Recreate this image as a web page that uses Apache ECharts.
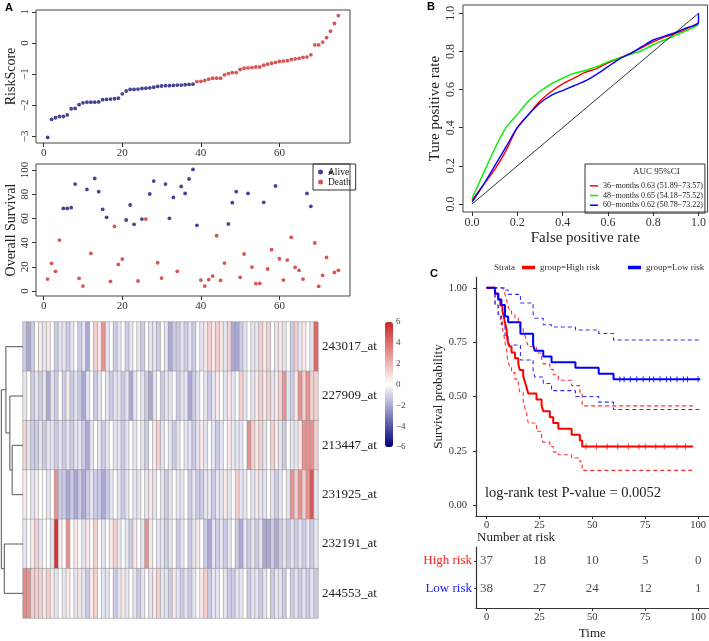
<!DOCTYPE html>
<html>
<head>
<meta charset="utf-8">
<title>Risk model - ROC - survival</title>
<script src="https://cdn.jsdelivr.net/npm/echarts@6/dist/echarts.min.js"></script>
<style>
	html, body { margin: 0; padding: 0; background: #fff; }
	#main { width: 709px; height: 641px; }
</style>
</head>
<body>
<div id="main"></div>
<script type="text/javascript">
	// ---- A: risk score, patients sorted (low risk blue, high risk red)
	var riskLow = [-3.03,-2.45,-2.40,-2.36,-2.36,-2.31,-2.11,-2.10,-1.98,-1.92,-1.90,-1.90,-1.90,-1.89,-1.82,-1.81,-1.80,-1.79,-1.77,-1.63,
		-1.54,-1.49,-1.49,-1.48,-1.46,-1.45,-1.44,-1.42,-1.39,-1.38,-1.37,-1.37,-1.36,-1.35,-1.35,-1.34,-1.33,-1.32];
	var riskHigh = [-1.24,-1.23,-1.20,-1.16,-1.13,-1.13,-1.13,-1.02,-0.98,-0.95,-0.95,-0.85,-0.81,-0.80,-0.79,-0.77,-0.77,-0.71,-0.68,-0.65,
		-0.62,-0.59,-0.58,-0.57,-0.53,-0.51,-0.49,-0.46,-0.45,-0.38,-0.06,-0.06,0.03,0.17,0.38,0.63,0.88];

	// ---- A: overall survival of the same patients, 1 = death
	var osTime = [9.9,22.9,16.3,42.1,68.3,68.3,68.9,88.4,10.5,4.1,84.0,31.1,93.1,82.1,67.5,60.9,8.0,53.4,22.0,26.4,
		58.7,71.1,55.1,8.3,59.5,59.5,80.2,90.9,23.4,10.7,88.4,60.1,77.4,16.3,86.5,80.7,92.6,100.5,54.3,9.1,
		4.1,9.4,12.4,45.7,8.8,23.1,55.4,73.0,82.1,11.3,30.6,80.7,19.8,6.1,6.3,73.3,18.2,34.2,86.8,26.7,
		9.1,25.6,44.4,19.6,17.1,9.9,80.7,70.0,39.7,3.9,12.9,27.8,98.0,15.4,17.1];
	var osDeath = [1,1,1,1,0,0,0,0,1,1,0,1,0,0,0,0,1,1,1,1,
		0,0,0,1,0,1,0,0,1,1,0,0,0,1,0,0,0,0,0,1,
		1,1,1,1,1,1,0,0,0,1,1,0,1,1,1,0,1,1,0,1,
		1,1,1,1,1,1,0,0,1,1,1,1,0,1,1];

	// ---- A: heatmap, one array per probe (75 patients each)
	var geneNames = ['243017_at','227909_at','213447_at','231925_at','232191_at','244553_at'];
	var expr243017 = [-1.2,-2.0,-1.2,0,0.6,-0.6,0.6,0,-1.2,-0.6, -0.6,-1.2,-0.6,0,-1.2,-0.6,-2.0,0,1.3,0.6, 3.0,-0.6,0,-1.2,-0.6,0,-1.2,-0.6,0,-0.6,
		-1.2,0,-0.6,-0.6,-1.2,0,-0.6,-2.0,-1.2,-1.2, -0.6,-1.2,-0.6,-1.2,0,-0.6,0.6,1.3,0.6,1.3, 0.6,-0.6,1.3,-2.0,-2.0,-1.2,-0.6,0,-0.6,-0.6,
		1.3,0.6,1.3,0,-0.6,0.6,-0.6,0,-1.2,1.3, -0.6,0.6,0,-0.6,4.2];
	var expr227909 = [-0.6,0,-1.2,-0.6,-1.2,-0.6,-2.0,-0.6,-1.2,0, -1.2,0.6,-1.2,-0.6,-1.2,-2.0,-0.6,0,-1.2,-0.6, 0,-0.6,-1.2,-0.6,-0.6,-1.2,-0.6,-2.0,-0.6,0,
		-0.6,-1.2,-2.0,-0.6,0,-1.2,-0.6,-0.6,0,-1.2, -0.6,-0.6,-2.0,-1.2,-0.6,0,-0.6,-1.2,-0.6,0.6, 0,-0.6,0.6,-0.6,0,1.3,-0.6,0,-0.6,0.6,
		1.3,0.6,1.3,-0.6,0.6,1.3,3.0,-0.6,-1.2,0.6, 3.0,1.3,3.0,1.3,1.3];
	var expr213447 = [1.3,-0.6,-1.2,-1.2,-0.6,-1.2,-0.6,-0.6,-1.2,-0.6, -1.2,-0.6,-1.2,-0.6,-0.6,-1.2,-2.0,-0.6,0,-0.6, -1.2,-0.6,0,-0.6,-0.6,-1.2,-0.6,0,-0.6,0,
		-0.6,-1.2,0,0.6,1.3,-0.6,0,-0.6,-1.2,-0.6, 0,-0.6,-0.6,-1.2,-0.6,0.6,-0.6,0,-0.6,-1.2, -0.6,0,0.6,-0.6,-0.6,-0.6,0,3.0,1.3,0.6,
		1.3,-0.6,0,1.3,0.6,-0.6,-1.2,0,-0.6,-0.6, 0.6,3.0,3.0,3.0,1.3];
	var expr231925 = [0.6,0,-0.6,0.6,0,0,-0.6,0,3.0,-1.2, -1.2,-2.0,-1.2,-2.0,-1.2,-2.0,-1.2,-0.6,-1.2,-1.2, -2.0,-1.2,-0.6,0,-0.6,-1.2,-0.6,0,-0.6,-0.6,
		0,-0.6,0.6,-0.6,0,-0.6,-1.2,-0.6,0,-0.6, -0.6,0,-1.2,-0.6,-1.2,-1.2,-0.6,-0.6,-1.2,-0.6, -0.6,0.6,-0.6,0,1.3,-0.6,-0.6,0,-0.6,0.6,
		-0.6,-0.6,0,-0.6,-1.2,-0.6,0,-0.6,3.0,1.3, 3.0,1.3,3.0,4.6,-0.6];
	var expr232191 = [-0.6,0,0.6,1.3,-0.6,0,0,-0.6,5.6,0.6, 0,3.0,0,0.6,0,-0.6,0.6,0,1.3,0, -0.6,0,0.6,1.3,-0.6,0,-0.6,-1.2,0.6,0,
		-0.6,3.0,0.6,0,-0.6,-0.6,-1.2,-0.6,0,-1.2, -0.6,0,-1.2,-0.6,0.6,0,-1.2,-2.0,-0.6,-1.2, -0.6,-1.2,-0.6,0,-1.2,-2.0,-0.6,-1.2,-0.6,-1.2,
		-0.6,-2.0,-2.0,-1.2,-2.0,-1.2,-0.6,-1.2,-0.6,-1.2, -0.6,-1.2,-0.6,-1.2,-0.6];
	var expr244553 = [3.3,3.0,1.3,1.3,1.3,0.6,1.3,0.6,-0.6,0, -0.6,0.6,0,-0.6,0.6,-0.6,-1.2,0.6,1.3,0, -0.6,-0.6,0,-1.2,-0.6,0.6,-0.6,0,-0.6,-1.2,
		-0.6,0,-0.6,0.6,1.3,-0.6,-0.6,-1.2,0.6,-0.6, -1.2,-0.6,-1.2,-0.6,0,0.6,1.3,-1.2,-0.6,-0.6, 0,-0.6,-1.2,-1.2,-0.6,-0.6,0,-1.2,-0.6,-0.6,
		-1.2,-0.6,0,-1.2,-0.6,-0.6,-1.2,0,-1.2,-0.6, -1.2,-0.6,-1.2,-0.6,-1.2];
	var colorTicks = [-6,-4,-2,0,2,4,6];

	// row dendrogram, hclust style (negative = leaf, positive = earlier merge)
	var dendroMerge = [[-3,-4],[-2,1],[-1,2],[-5,-6],[3,4]];
	var dendroHeight = [33,40,52,57,66];

	// ---- B: time dependent ROC
	var rocFpr = [0,0.05,0.1,0.15,0.2,0.25,0.3,0.35,0.4,0.45,0.5,0.55,0.6,0.65,0.7,0.75,0.8,0.85,0.9,0.95,1];
	var roc36 = [0.02,0.10,0.18,0.28,0.40,0.47,0.54,0.59,0.63,0.66,0.69,0.71,0.74,0.765,0.79,0.82,0.85,0.875,0.895,0.92,0.95];
	var roc48 = [0.03,0.16,0.29,0.40,0.47,0.54,0.59,0.63,0.66,0.685,0.70,0.72,0.745,0.765,0.785,0.805,0.835,0.86,0.885,0.91,0.94];
	var roc60Fpr = [0,0.05,0.1,0.15,0.2,0.25,0.3,0.35,0.4,0.45,0.5,0.55,0.6,0.65,0.7,0.75,0.8,0.85,0.9,0.95,1,1];
	var roc60 = [0.01,0.10,0.20,0.30,0.40,0.47,0.53,0.57,0.595,0.62,0.645,0.68,0.72,0.76,0.79,0.825,0.86,0.88,0.90,0.925,0.95,1.0];
	var rocNames = ['36\u2212months 0.63 (51.89\u221273.57)', '48\u2212months 0.65 (54.18\u221275.52)', '60\u2212months 0.62 (50.78\u221273.22)'];
	var diagLine = [0, 1];

	// ---- C: Kaplan-Meier by risk group
	var highT  = [0,4,5.5,6.5,7.5,8.2,8.7,9.4,9.9,10.8,11.8,13.4,15,15.7,17.3,18.1,18.9,19.7,23.6,26,26.8,29.9,31.5,33.9,40.2,44.1,45.2,97.6];
	var highS  = [1,.973,.946,.919,.892,.865,.838,.811,.757,.730,.703,.676,.649,.622,.595,.568,.541,.514,.486,.459,.432,.405,.378,.351,.324,.297,.270,.270];
	var highUp = [1,1,1,1,1,.99,.97,.95,.92,.90,.88,.86,.84,.82,.80,.78,.755,.73,.70,.675,.65,.625,.60,.575,.55,.52,.457,.457];
	var highLo = [1,.92,.88,.85,.81,.78,.75,.72,.67,.64,.61,.58,.55,.52,.48,.45,.42,.378,.34,.30,.29,.27,.245,.232,.217,.20,.16,.16];
	var lowT  = [0,4,5.5,7,8.7,10.2,16,22,22.8,26.8,30.7,42,53,60,101];
	var lowS  = [1,.974,.947,.921,.868,.842,.789,.737,.711,.684,.658,.632,.605,.579,.579];
	var lowUp = [1,1,1,1,.99,.97,.93,.88,.86,.83,.82,.806,.79,.76,.76];
	var lowLo = [1,.92,.87,.83,.78,.737,.668,.62,.59,.56,.527,.50,.474,.44,.44];
	var highCensor = [47,52,57,62,67,72,75,80,84,90,94];
	var lowCensor = [63,65,68,71,74,77,79,82,85,87,90,93,95,100];

	var riskTimes = [0,25,50,75,100];
	var highAtRisk = [37,18,10,5,0];
	var lowAtRisk = [38,27,24,12,1];

	var SERIF = '"Liberation Serif", "Times New Roman", serif';
	var SANS = '"Liberation Sans", Arial, sans-serif';
	var AX = '#333';

	function minus(v) { return String(v).replace('-', '\u2212'); }
	function pairs(xs, ys) { return ys.map(function (y, i) { return [xs[i], y]; }); }

	// base-R style axis: ticks outside, labels at given values, box drawn by grid
	function baseAxis(gi, min, max, ticks, lab) {
		return {
			gridIndex: gi, type: 'value', min: min, max: max,
			axisLine: {show: false, onZero: false}, splitLine: {show: false},
			axisTick: {customValues: ticks, length: 4, lineStyle: {color: AX}},
			axisLabel: Object.assign({customValues: ticks, fontFamily: SERIF, fontSize: 11, color: AX, margin: 5, formatter: minus}, lab || {})
		};
	}
	var idxTicks = [0,20,40,60];

	var heatData = [];
	[expr243017, expr227909, expr213447, expr231925, expr232191, expr244553].forEach(function (row, r) {
		row.forEach(function (v, c) { heatData.push([c, r, v]); });
	});
	var patientIds = expr243017.map(function (v, i) { return String(i + 1); });

	// dendrogram segments
	var nodes = [];
	var dendroLines = dendroMerge.map(function (m, k) {
		var kids = m.map(function (id) {
			return id < 0 ? {h: 0, y: -id - 0.5} : nodes[id - 1];
		});
		var h = dendroHeight[k];
		nodes.push({h: h, y: (kids[0].y + kids[1].y) / 2});
		return {coords: [[kids[0].h, kids[0].y], [h, kids[0].y], [h, kids[1].y], [kids[1].h, kids[1].y]]};
	});

	var aliveData = [], deathData = [];
	osTime.forEach(function (t, i) {
		(osDeath[i] ? deathData : aliveData).push([i + 1, t]);
	});

	var kmTicks = [0,25,50,75,100];
	function kmX(gi, extra) {
		return Object.assign({
			gridIndex: gi, type: 'value', min: -5, max: 105,
			axisLine: {show: true, onZero: false, lineStyle: {color: AX, width: 1.2}}, splitLine: {show: false},
			axisTick: {customValues: kmTicks, length: 3, lineStyle: {color: AX}},
			axisLabel: {customValues: kmTicks, fontFamily: SERIF, fontSize: 10.5, color: AX, margin: 4}
		}, extra || {});
	}
	function kmLine(name, t, s, color, width, dashed) {
		return {
			name: name, type: 'line', xAxisIndex: 6, yAxisIndex: 6, step: 'end', showSymbol: false,
			data: pairs(t, s), color: color,
			lineStyle: {color: color, width: width, type: dashed ? [4, 3] : 'solid'}
		};
	}
	function censor(times, level, color) {
		return {
			type: 'scatter', xAxisIndex: 6, yAxisIndex: 6, symbol: 'rect', symbolSize: [1, 6],
			data: times.map(function (t) { return [t, level]; }), itemStyle: {color: color}
		};
	}
	function kmLegend(name, left) {
		return {data: [name], left: left, top: 263, icon: 'rect', itemWidth: 13, itemHeight: 3.5, itemGap: 0,
			padding: 0, selectedMode: false, textStyle: {fontFamily: SERIF, fontSize: 9, color: '#333'}};
	}
	function tableRow(counts, yPos) {
		return counts.map(function (n, i) { return [riskTimes[i], yPos, n]; });
	}
	var rowHigh = 0.226, rowLow = 0.677;

	var myChart = echarts.init(document.getElementById('main'));
	var option = {
		animation: false,
		backgroundColor: '#fff',
		title: [
			{text: 'A', left: 5, top: 2, padding: 0, textStyle: {fontFamily: SANS, fontWeight: 'bold', fontSize: 11, color: '#000'}},
			{text: 'B', left: 427, top: 1, padding: 0, textStyle: {fontFamily: SANS, fontWeight: 'bold', fontSize: 11, color: '#000'}},
			{text: 'C', left: 430, top: 268, padding: 0, textStyle: {fontFamily: SANS, fontWeight: 'bold', fontSize: 11, color: '#000'}},
			{text: 'AUC 95%CI', left: 633, top: 167, padding: 0, textStyle: {fontFamily: SERIF, fontWeight: 'normal', fontSize: 9, color: '#222'}},
			{text: 'Strata', left: 494, top: 263, padding: 0, textStyle: {fontFamily: SERIF, fontWeight: 'normal', fontSize: 9, color: '#333'}},
			{text: 'log-rank test P-value = 0.0052', left: 485, top: 486, padding: 0, textStyle: {fontFamily: SERIF, fontWeight: 'normal', fontSize: 14.5, color: '#222'}},
			{text: 'Number at risk', left: 477, top: 531, padding: 0, textStyle: {fontFamily: SERIF, fontWeight: 'normal', fontSize: 13, color: '#222'}}
		],
		legend: [
			{data: ['Alive', 'Death'], left: 313, top: 164, orient: 'vertical', icon: 'circle', itemWidth: 5, itemHeight: 5, itemGap: 0,
				padding: [3, 5, 3, 5], borderColor: '#333', borderWidth: 1, selectedMode: false,
				textStyle: {fontFamily: SERIF, fontSize: 9.5, lineHeight: 10, color: '#222'}},
			{data: rocNames, left: 585, top: 164, orient: 'vertical', icon: 'rect', itemWidth: 8, itemHeight: 1.5, itemGap: 0,
				padding: [17, 2, 3, 5], borderColor: '#333', borderWidth: 1, selectedMode: false,
				textStyle: {fontFamily: SERIF, fontSize: 8, lineHeight: 9.7, color: '#222'}},
			kmLegend('group=High risk', 522),
			kmLegend('group=Low risk', 628)
		],
		grid: [
			{left: 36, top: 10, width: 314, height: 133, show: true, borderColor: '#444', borderWidth: 1},
			{left: 36, top: 164, width: 314, height: 132, show: true, borderColor: '#444', borderWidth: 1},
			{left: 23, top: 322, width: 295, height: 296},
			{left: 0, top: 322, width: 23, height: 296},
			{left: 385, top: 322, width: 8, height: 125},
			{left: 463, top: 5, width: 245, height: 207, show: true, borderColor: '#444', borderWidth: 1},
			{left: 476, top: 277, width: 233, height: 239},
			{left: 476, top: 547, width: 233, height: 62}
		],
		xAxis: [
			baseAxis(0, -1.96, 77.96, idxTicks),
			baseAxis(1, -1.96, 77.96, idxTicks),
			{gridIndex: 2, type: 'category', data: patientIds, show: false},
			{gridIndex: 3, type: 'value', min: 0, max: 70, inverse: true, show: false},
			{gridIndex: 4, type: 'value', min: 0, max: 1, show: false},
			Object.assign(baseAxis(5, -0.04, 1.04, [0,0.2,0.4,0.6,0.8,1],
				{fontSize: 12, formatter: function (v) { return v.toFixed(1); }}), {
				name: 'False positive rate', nameLocation: 'middle', nameGap: 19,
				nameTextStyle: {fontFamily: SERIF, fontSize: 15, color: '#222'}
			}),
			kmX(6),
			kmX(7, {name: 'Time', nameLocation: 'middle', nameGap: 19, nameTextStyle: {fontFamily: SERIF, fontSize: 13, color: '#222'}})
		],
		yAxis: [
			Object.assign(baseAxis(0, -3.21, 1.06, [-3,-2,-1,0,1], {rotate: 90}), {
				name: 'RiskScore', nameLocation: 'middle', nameGap: 18,
				nameTextStyle: {fontFamily: SERIF, fontSize: 14, color: '#222'}
			}),
			Object.assign(baseAxis(1, -4.1, 105, [0,20,40,60,80,100], {rotate: 90}), {
				name: 'Overall Survival', nameLocation: 'middle', nameGap: 18,
				nameTextStyle: {fontFamily: SERIF, fontSize: 14, color: '#222'}
			}),
			{gridIndex: 2, type: 'category', data: geneNames, inverse: true, position: 'right',
				axisLine: {show: false}, axisTick: {show: false},
				axisLabel: {fontFamily: SERIF, fontSize: 13, color: '#222', margin: 4}},
			{gridIndex: 3, type: 'value', min: 0, max: 6, inverse: true, show: false},
			{gridIndex: 4, type: 'value', min: -6, max: 6, interval: 2, position: 'right',
				axisLine: {show: false}, axisTick: {show: false}, splitLine: {show: false},
				axisLabel: {customValues: colorTicks, fontFamily: SERIF, fontSize: 9, color: '#444', margin: 3, formatter: minus}},
			Object.assign(baseAxis(5, -0.042, 1.0435, [0,0.2,0.4,0.6,0.8,1],
				{fontSize: 12, rotate: 90, margin: 6, formatter: function (v) { return v.toFixed(1); }}), {
				name: 'Ture positive rate', nameLocation: 'middle', nameGap: 20,
				nameTextStyle: {fontFamily: SERIF, fontSize: 15, color: '#222'}
			}),
			{gridIndex: 6, type: 'value', min: -0.05, max: 1.05,
				axisLine: {show: true, onZero: false, lineStyle: {color: AX, width: 1.2}}, splitLine: {show: false},
				axisTick: {customValues: [0,0.25,0.5,0.75,1], length: 3, lineStyle: {color: AX}},
				axisLabel: {customValues: [0,0.25,0.5,0.75,1], fontFamily: SERIF, fontSize: 10.5, color: AX, margin: 9,
					formatter: function (v) { return v.toFixed(2); }},
				name: 'Survival probability', nameLocation: 'middle', nameGap: 29,
				nameTextStyle: {fontFamily: SERIF, fontSize: 13, color: '#222'}},
			{gridIndex: 7, type: 'value', min: 0, max: 1, inverse: true,
				axisLine: {show: true, onZero: false, lineStyle: {color: AX, width: 1.2}}, splitLine: {show: false},
				axisTick: {customValues: [rowHigh, rowLow], length: 2, lineStyle: {color: AX}},
				axisLabel: {customValues: [rowHigh, rowLow], margin: 4,
					formatter: function (v) { return v < 0.5 ? '{h|High risk}' : '{l|Low risk}'; },
					rich: {
						h: {fontFamily: SERIF, fontSize: 13, color: '#FF2020'},
						l: {fontFamily: SERIF, fontSize: 13, color: '#2020FF'}
					}}}
		],
		visualMap: {
			type: 'continuous', seriesIndex: 4, min: -6, max: 6, calculable: false,
			left: 385, top: 322, itemWidth: 8, itemHeight: 125, padding: 0,
			inRange: {color: ['#000080', '#ffffff', '#CD2626']}
		},
		series: [
			{type: 'scatter', xAxisIndex: 0, yAxisIndex: 0, symbolSize: 3.8, itemStyle: {color: '#17177a'},
				data: riskLow.map(function (v, i) { return [i + 1, v]; })},
			{type: 'scatter', xAxisIndex: 0, yAxisIndex: 0, symbolSize: 3.8, itemStyle: {color: '#cc2a2a'},
				data: riskHigh.map(function (v, i) { return [riskLow.length + i + 1, v]; })},
			{name: 'Alive', type: 'scatter', xAxisIndex: 1, yAxisIndex: 1, symbolSize: 3.8, itemStyle: {color: '#17177a'}, data: aliveData},
			{name: 'Death', type: 'scatter', xAxisIndex: 1, yAxisIndex: 1, symbolSize: 3.8, itemStyle: {color: '#cc2a2a'}, data: deathData},
			{type: 'heatmap', xAxisIndex: 2, yAxisIndex: 2, data: heatData,
				itemStyle: {borderColor: '#8f8f8f', borderWidth: 0.5}},
			{type: 'lines', coordinateSystem: 'cartesian2d', xAxisIndex: 3, yAxisIndex: 3, polyline: true,
				data: dendroLines, lineStyle: {color: '#555', width: 1, opacity: 1}},
			{type: 'scatter', xAxisIndex: 4, yAxisIndex: 4, data: []},
			{name: rocNames[0], type: 'line', xAxisIndex: 5, yAxisIndex: 5, smooth: 0.3, showSymbol: false, color: '#FF0000',
				lineStyle: {width: 1.4}, data: pairs(rocFpr, roc36)},
			{name: rocNames[1], type: 'line', xAxisIndex: 5, yAxisIndex: 5, smooth: 0.3, showSymbol: false, color: '#00EE00',
				lineStyle: {width: 1.4}, data: pairs(rocFpr, roc48)},
			{name: rocNames[2], type: 'line', xAxisIndex: 5, yAxisIndex: 5, smooth: 0.3, showSymbol: false, color: '#0000FF',
				lineStyle: {width: 1.4}, data: pairs(roc60Fpr, roc60)},
			{type: 'line', xAxisIndex: 5, yAxisIndex: 5, showSymbol: false, lineStyle: {color: '#000', width: 0.8},
				data: pairs(diagLine, diagLine)},
			kmLine('high upper', highT, highUp, '#FF3030', 1.1, true),
			kmLine('high lower', highT, highLo, '#FF3030', 1.1, true),
			kmLine('low upper', lowT, lowUp, '#3030FF', 1.1, true),
			kmLine('low lower', lowT, lowLo, '#3030FF', 1.1, true),
			kmLine('group=High risk', highT, highS, '#FF0000', 2, false),
			kmLine('group=Low risk', lowT, lowS, '#0000FF', 2, false),
			censor(highCensor, highS[highS.length - 1], '#FF0000'),
			censor(lowCensor, lowS[lowS.length - 1], '#0000FF'),
			{type: 'scatter', xAxisIndex: 7, yAxisIndex: 7, symbolSize: 1, itemStyle: {color: 'rgba(0,0,0,0)'},
				data: tableRow(highAtRisk, rowHigh).concat(tableRow(lowAtRisk, rowLow)),
				label: {show: true, position: 'inside', formatter: function (p) { return p.value[2]; },
					fontFamily: SERIF, fontSize: 13, color: '#222'}}
		]
	};
	myChart.setOption(option);
</script>
</body>
</html>
